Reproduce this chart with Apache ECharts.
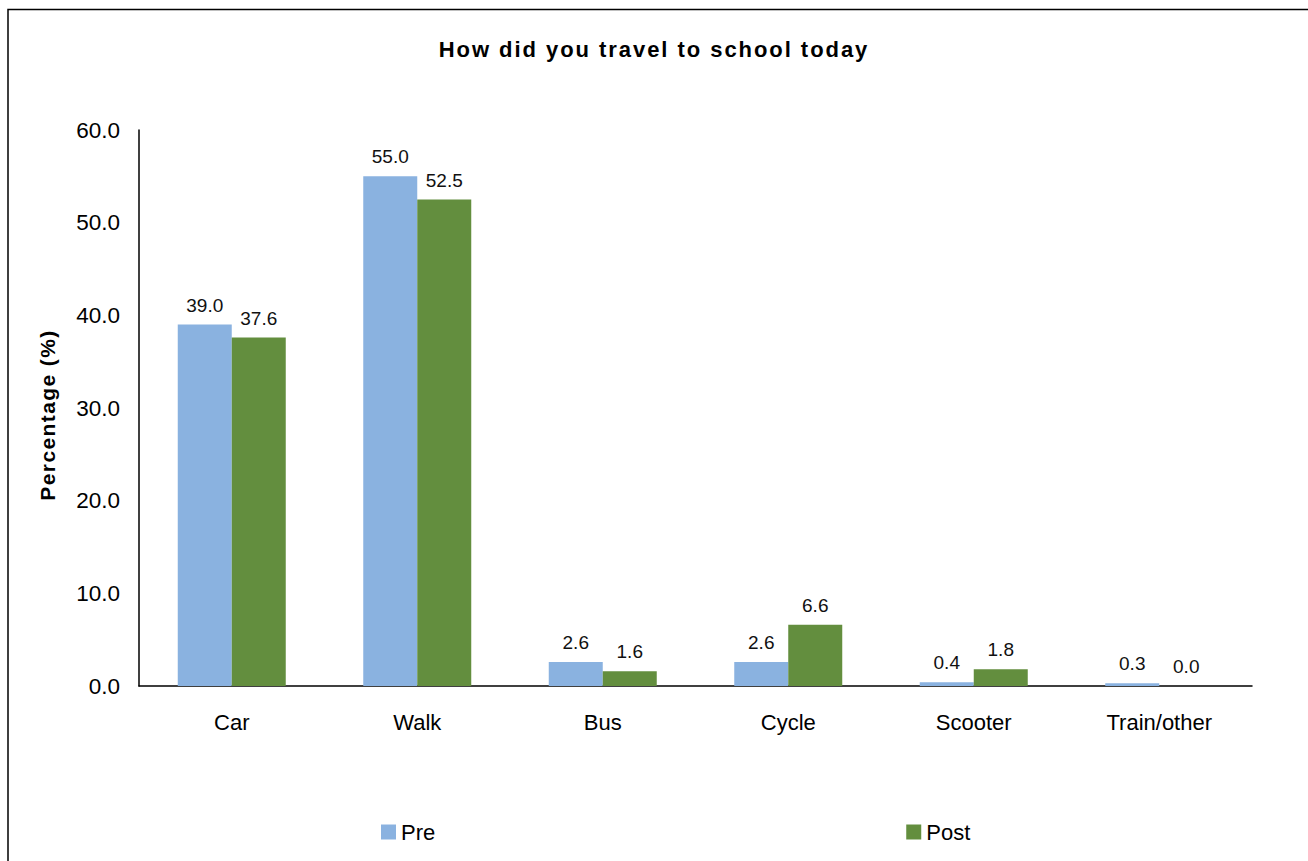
<!DOCTYPE html>
<html>
<head>
<meta charset="utf-8">
<style>
  html, body { margin: 0; padding: 0; background: #fff; }
  #chart { width: 1308px; height: 861px; }
</style>
<script src="https://cdn.jsdelivr.net/npm/echarts@6/dist/echarts.min.js"></script>
</head>
<body>
<div id="chart"></div>
<script>
// Survey answers: share of pupils by mode of travel, before and after
const titleText = 'How did you travel to school today';
const axisName = 'Percentage (%)';
const categories = ['Car', 'Walk', 'Bus', 'Cycle', 'Scooter', 'Train/other'];
const preValues = [39.0, 55.0, 2.6, 2.6, 0.4, 0.3];
const postValues = [37.6, 52.5, 1.6, 6.6, 1.8, 0.0];
const seriesNames = ['Pre', 'Post'];

const FONT = '"Liberation Sans", Arial, Helvetica, sans-serif';
const PRE_COLOR = '#8AB2E0';
const POST_COLOR = '#638E3E';

const chart = echarts.init(document.getElementById('chart'), null, { renderer: 'svg' });

const valueLabel = {
  show: true,
  position: 'top',
  distance: 10,
  color: '#111',
  fontFamily: FONT,
  fontSize: 19,
  formatter: p => p.value.toFixed(1)
};

chart.setOption({
  animation: false,
  backgroundColor: '#fff',
  textStyle: { fontFamily: FONT },
  title: {
    text: titleText,
    left: 'center',
    top: 33,
    textStyle: { fontFamily: FONT, fontSize: 22, fontWeight: 'bold', color: '#000' }
  },
  graphic: [{
    type: 'rect',
    shape: { x: 8, y: 9.5, width: 1400, height: 1000 },
    style: { fill: 'none', stroke: '#000', lineWidth: 1.5 },
    silent: true,
    z: 100
  }],
  legend: {
    data: seriesNames,
    left: 376,
    top: 816,
    itemWidth: 15,
    itemHeight: 15,
    itemGap: 471,
    icon: 'rect',
    textStyle: { fontFamily: FONT, fontSize: 22, color: '#000' }
  },
  grid: { left: 139, right: 56, top: 130, bottom: 175, containLabel: false },
  xAxis: {
    type: 'category',
    data: categories,
    axisLine: { lineStyle: { color: '#000', width: 1.5 } },
    axisTick: { show: false },
    axisLabel: { color: '#000', fontFamily: FONT, fontSize: 22, margin: 25 },
    splitLine: { show: false }
  },
  yAxis: {
    type: 'value',
    min: 0,
    max: 60,
    interval: 10,
    name: axisName,
    nameLocation: 'middle',
    nameRotate: 90,
    nameGap: 81,
    nameTextStyle: {
      fontFamily: FONT, fontSize: 21, fontWeight: 'bold', color: '#000',
      padding: [0, 14, 0, 0]
    },
    axisLine: { show: true, lineStyle: { color: '#000', width: 1.5 } },
    axisTick: { show: false },
    axisLabel: { color: '#000', fontFamily: FONT, fontSize: 22.5, margin: 19, formatter: v => v.toFixed(1) },
    splitLine: { show: false }
  },
  series: [
    {
      name: seriesNames[0],
      type: 'bar',
      data: preValues,
      barWidth: 54,
      barGap: '0%',
      itemStyle: { color: PRE_COLOR },
      label: valueLabel
    },
    {
      name: seriesNames[1],
      type: 'bar',
      data: postValues,
      barWidth: 54,
      barGap: '0%',
      itemStyle: { color: POST_COLOR },
      label: valueLabel
    }
  ]
});

// Widen the tracking of the bold headings
function spaceHeadings() {
  const spacing = { [titleText]: '1.95px', [axisName]: '1.4px' };
  document.querySelectorAll('#chart text').forEach(t => {
    const s = spacing[t.textContent];
    if (s) {
      t.style.letterSpacing = s;
      t.setAttribute('letter-spacing', s);
    }
  });
}
spaceHeadings();
chart.on('finished', spaceHeadings);
setTimeout(spaceHeadings, 0);
</script>
</body>
</html>
